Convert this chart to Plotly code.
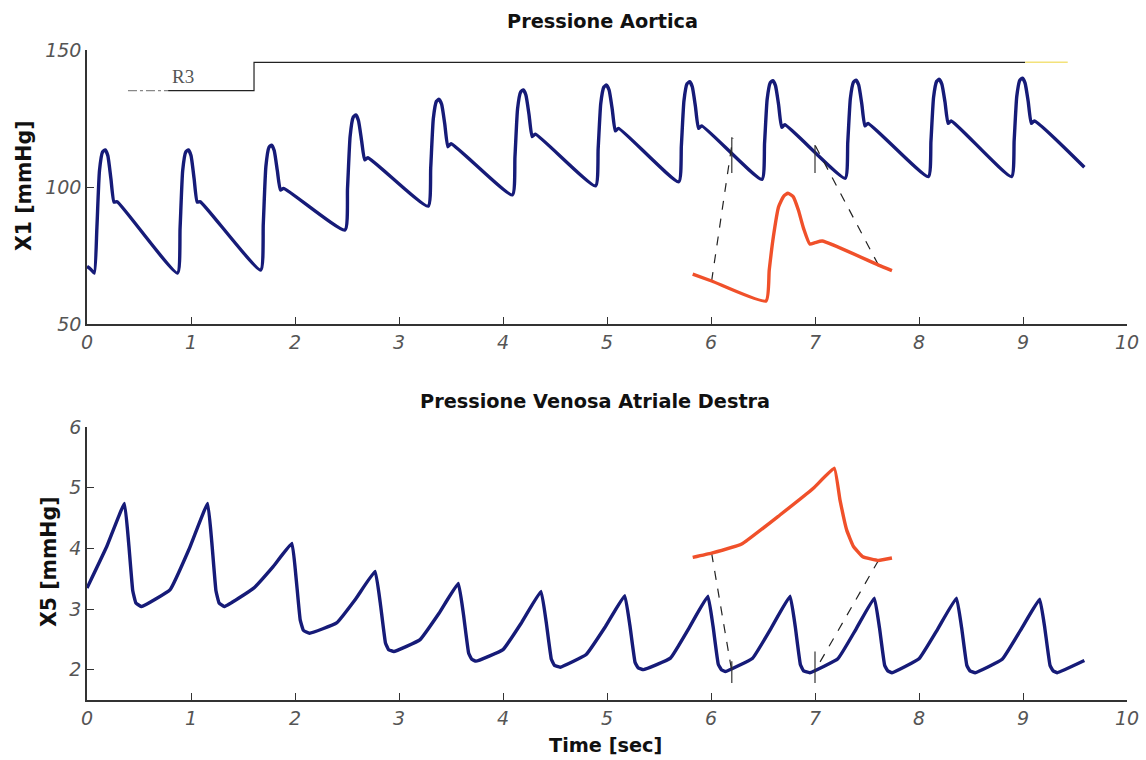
import plotly.graph_objects as go

W, H = 1146, 760

# ---------------- data ----------------
aortic_t = [0.00, 0.035,
            0.07, 0.095, 0.12, 0.15, 0.175, 0.20, 0.23, 0.26, 0.29,
            0.87, 0.895, 0.92, 0.95, 0.975, 1.00, 1.03, 1.06, 1.09,
            1.67, 1.695, 1.72, 1.75, 1.775, 1.80, 1.83, 1.86, 1.89,
            2.48, 2.505, 2.53, 2.56, 2.585, 2.61, 2.64, 2.67, 2.70,
            3.28, 3.305, 3.33, 3.36, 3.385, 3.41, 3.44, 3.47, 3.50,
            4.09, 4.115, 4.14, 4.17, 4.195, 4.22, 4.25, 4.28, 4.31,
            4.89, 4.915, 4.94, 4.97, 4.995, 5.02, 5.05, 5.08, 5.11,
            5.69, 5.715, 5.74, 5.77, 5.795, 5.82, 5.85, 5.88, 5.91,
            6.49, 6.515, 6.54, 6.57, 6.595, 6.62, 6.65, 6.68, 6.71,
            7.29, 7.315, 7.34, 7.37, 7.395, 7.42, 7.45, 7.48, 7.51,
            8.09, 8.115, 8.14, 8.17, 8.195, 8.22, 8.25, 8.28, 8.31,
            8.89, 8.915, 8.94, 8.97, 8.995, 9.02, 9.05, 9.08, 9.11,
            9.59]
aortic_p = [71.0, 70.0,
            68.6, 85.0, 106.0, 112.8, 113.5, 111.5, 103.0, 94.5, 94.6,
            68.6, 85.0, 106.0, 112.8, 113.5, 111.5, 103.0, 94.5, 94.6,
            69.7, 86.5, 107.5, 114.5, 115.3, 113.3, 106.0, 98.9, 99.5,
            84.3, 99.5, 118.5, 125.5, 126.3, 124.3, 117.0, 109.9, 110.7,
            93.0, 107.0, 125.0, 131.3, 132.0, 130.2, 123.0, 114.7, 115.8,
            97.1, 111.0, 128.5, 134.7, 135.4, 133.6, 126.5, 118.4, 119.3,
            100.4, 114.0, 130.5, 136.5, 137.2, 135.4, 128.5, 120.5, 121.4,
            101.9, 115.0, 131.5, 137.7, 138.4, 136.6, 129.5, 121.4, 122.3,
            102.8, 116.0, 132.0, 138.1, 138.8, 137.0, 130.0, 121.8, 122.7,
            103.2, 116.3, 132.3, 138.3, 139.0, 137.2, 130.3, 122.3, 123.2,
            103.8, 116.8, 132.7, 138.6, 139.3, 137.5, 131.0, 123.2, 124.1,
            103.8, 117.0, 133.0, 139.0, 139.7, 137.9, 131.2, 123.2, 124.1,
            107.2]

venous_t = [0.00, 0.19, 0.36, 0.40, 0.44, 0.47, 0.525, 0.80, 0.98,
            1.16, 1.20, 1.24, 1.27, 1.32, 1.60, 1.79,
            1.97, 2.01, 2.05, 2.08, 2.14, 2.40, 2.585,
            2.77, 2.82, 2.87, 2.90, 2.95, 3.20, 3.385,
            3.57, 3.62, 3.67, 3.70, 3.74, 4.00, 4.18,
            4.365, 4.415, 4.465, 4.495, 4.55, 4.80, 4.985,
            5.17, 5.22, 5.27, 5.30, 5.35, 5.61, 5.79,
            5.97, 6.02, 6.07, 6.10, 6.14, 6.40, 6.58,
            6.76, 6.81, 6.86, 6.89, 6.95, 7.22, 7.395,
            7.57, 7.62, 7.67, 7.70, 7.74, 8.00, 8.18,
            8.36, 8.41, 8.46, 8.49, 8.54, 8.80, 8.98,
            9.16, 9.21, 9.26, 9.29, 9.33, 9.59]
venous_v = [3.345, 4.03, 4.74, 4.10, 3.30, 3.10, 3.04, 3.32, 3.98,
            4.74, 4.10, 3.30, 3.10, 3.04, 3.34, 3.70,
            4.08, 3.52, 2.82, 2.65, 2.60, 2.77, 3.17,
            3.62, 3.10, 2.44, 2.33, 2.30, 2.49, 2.93,
            3.42, 2.91, 2.27, 2.17, 2.14, 2.33, 2.78,
            3.29, 2.79, 2.17, 2.07, 2.04, 2.25, 2.71,
            3.22, 2.73, 2.12, 2.03, 2.00, 2.19, 2.69,
            3.21, 2.71, 2.09, 2.00, 1.97, 2.19, 2.69,
            3.21, 2.71, 2.08, 1.98, 1.95, 2.18, 2.67,
            3.18, 2.69, 2.07, 1.98, 1.95, 2.18, 2.67,
            3.18, 2.69, 2.07, 1.98, 1.95, 2.17, 2.66,
            3.16, 2.68, 2.07, 1.98, 1.95, 2.15]

# magnified single-beat insets (orange)
inset_top_t = [5.824, 6.006, 6.529, 6.56, 6.60, 6.65, 6.70, 6.74, 6.79, 6.84,
               6.89, 6.95, 7.00, 7.07, 7.61, 7.74]
inset_top_p = [68.2, 65.7, 58.4, 69.7, 81.9, 92.8, 96.7, 97.7, 96.5, 91.6,
               84.9, 79.2, 79.7, 80.3, 71.5, 69.5]
inset_bot_t = [5.824, 6.006, 6.295, 6.663, 6.984, 7.186, 7.24, 7.305, 7.37,
               7.46, 7.61, 7.74]
inset_bot_v = [3.85, 3.92, 4.07, 4.55, 4.99, 5.32, 4.80, 4.30, 4.03, 3.86,
               3.80, 3.84]

# connectors and beat markers
top_dash1_t, top_dash1_p = [6.006, 6.21], [65.7, 117.9]
top_dash2_t, top_dash2_p = [7.61, 7.0], [71.5, 115.3]
top_mark1_t, top_mark1_p = [6.2, 6.2], [105.1, 118.2]
top_mark2_t, top_mark2_p = [7.0, 7.0], [105.1, 115.3]
bot_dash1_t, bot_dash1_v = [6.006, 6.2], [3.92, 1.97]
bot_dash2_t, bot_dash2_v = [7.61, 7.016], [3.80, 2.03]
bot_mark1_t, bot_mark1_v = [6.2, 6.2], [1.78, 2.14]
bot_mark2_t, bot_mark2_v = [7.0, 7.0], [1.78, 2.30]

# R3 step signal
r3_pre_t, r3_pre_y = [0.394, 0.78], [135.2, 135.2]
r3_t, r3_y = [0.78, 1.606, 1.606, 9.02], [135.2, 135.2, 145.5, 145.5]
r3_post_t, r3_post_y = [9.02, 9.43], [145.5, 145.5]

x_ticks = list(range(0, 11))
top_yticks = [50, 100, 150]
bot_yticks = [2, 3, 4, 5, 6]

# ---------------- figure ----------------
NAVY = "#161B78"
ORANGE = "#F0502A"

fig = go.Figure()

def add(x, y, xa, ya, color, width, dash="solid", smooth=0.0):
    line = dict(color=color, width=width, dash=dash)
    if smooth:
        line.update(shape="spline", smoothing=smooth)
    fig.add_trace(go.Scatter(x=x, y=y, xaxis=xa, yaxis=ya, mode="lines",
                             line=line, hoverinfo="skip", showlegend=False))

# top panel
add(r3_pre_t, r3_pre_y, "x", "y", "#888888", 1.2, "dashdot")
add(r3_t, r3_y, "x", "y", "#222222", 1.2)
add(r3_post_t, r3_post_y, "x", "y", "#F3E27A", 1.5)
add(aortic_t, aortic_p, "x", "y", NAVY, 3.4, smooth=0.5)
add(top_mark1_t, top_mark1_p, "x", "y", "#333333", 1.2)
add(top_mark2_t, top_mark2_p, "x", "y", "#333333", 1.2)
add(top_dash1_t, top_dash1_p, "x", "y", "#222222", 1.2, "dash")
add(top_dash2_t, top_dash2_p, "x", "y", "#222222", 1.2, "dash")
add(inset_top_t, inset_top_p, "x", "y", ORANGE, 3.4, smooth=0.5)

# bottom panel
add(venous_t, venous_v, "x2", "y2", NAVY, 3.4, smooth=0.3)
add(bot_mark1_t, bot_mark1_v, "x2", "y2", "#333333", 1.2)
add(bot_mark2_t, bot_mark2_v, "x2", "y2", "#333333", 1.2)
add(bot_dash1_t, bot_dash1_v, "x2", "y2", "#222222", 1.2, "dash")
add(bot_dash2_t, bot_dash2_v, "x2", "y2", "#222222", 1.2, "dash")
add(inset_bot_t, inset_bot_v, "x2", "y2", ORANGE, 3.4, smooth=0.3)

def px(x):
    return x / W

def py(y):
    return 1 - y / H

tickfont = dict(family="DejaVu Sans", size=19, color="#555555", style="italic")
axis_common = dict(showline=True, linecolor="#333333", linewidth=1.5,
                   ticks="inside", ticklen=7, tickwidth=1.2, tickcolor="#333333",
                   showgrid=False, zeroline=False, tickfont=tickfont,
                   fixedrange=True, automargin=False)

xdom = [px(87), px(1127)]
fig.update_layout(
    width=W, height=H, autosize=False,
    margin=dict(l=0, r=0, t=0, b=0),
    paper_bgcolor="white", plot_bgcolor="white",
    xaxis=dict(domain=xdom, range=[0, 10], tickvals=x_ticks, anchor="y", **axis_common),
    yaxis=dict(domain=[py(324), py(50)], range=[50, 150], tickvals=top_yticks,
               anchor="x", **axis_common),
    xaxis2=dict(domain=xdom, range=[0, 10], tickvals=x_ticks, anchor="y2", **axis_common),
    yaxis2=dict(domain=[py(700), py(427)], range=[1.5, 6], tickvals=bot_yticks,
                anchor="x2", **axis_common),
)

bold = dict(family="DejaVu Sans", size=19.3, color="#111111", weight="bold")
ybold = dict(family="DejaVu Sans", size=20.5, color="#111111", weight="bold")
annots = [
    dict(text="Pressione Aortica", x=px(602.5), y=py(22), font=bold),
    dict(text="Pressione Venosa Atriale Destra", x=px(595), y=py(401), font=bold),
    dict(text="Time [sec]", x=px(605), y=py(745), font=bold),
    dict(text="X1 [mmHg]", x=px(24), y=py(186), font=ybold, textangle=-90),
    dict(text="X5 [mmHg]", x=px(49), y=py(562), font=ybold, textangle=-90),
]
for a in annots:
    fig.add_annotation(xref="paper", yref="paper", showarrow=False,
                       xanchor="center", yanchor="middle", **a)

fig.add_annotation(text="R3", x=0.92, y=140.3, xref="x", yref="y", showarrow=False,
                   font=dict(family="Liberation Serif", size=19, color="#555555"))

fig.write_html("out.html", config={"displayModeBar": False},
               post_script="document.body.style.margin='0';"
                           "document.body.style.overflow='hidden';")
